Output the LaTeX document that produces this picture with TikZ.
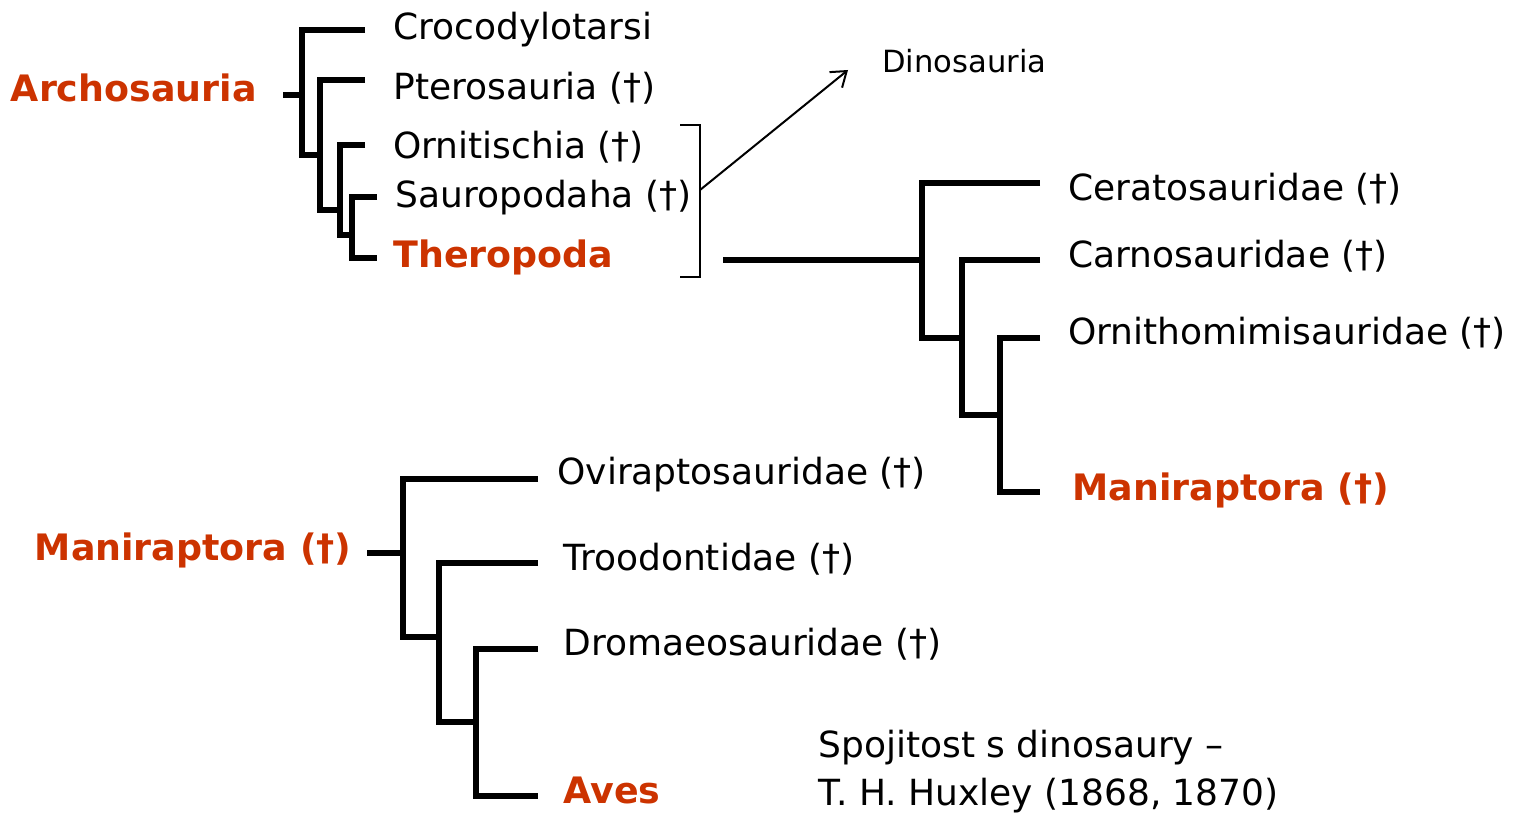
\documentclass[tikz,border=0pt]{standalone}
\usepackage{fontspec}
\setmainfont{DejaVu Sans}
\usetikzlibrary{arrows.meta}
\definecolor{cred}{RGB}{204,51,0}
\begin{document}
\begin{tikzpicture}[x=0.5pt,y=-0.5pt,
  br/.style={line width=2.6pt, line join=miter},
  thinline/.style={line width=1pt, line join=miter},
  lbl/.style={anchor=west, inner sep=0pt, font=\fontsize{18}{20}\selectfont},
  rlbl/.style={anchor=west, inner sep=0pt, text=cred, font=\fontsize{18.2}{20}\selectfont\bfseries}]
\useasboundingbox (0,0) rectangle (1518,822);
% ---------- top tree ----------
\node[lbl]  (tCro) at (393,30)  {Crocodylotarsi};
\node[lbl]  (tPte) at (393,88)  {Pterosauria (†)};
\node[lbl]  (tOrn) at (393,147) {Ornitischia (†)};
\node[lbl]  (tSau) at (395,198) {Sauropodaha (†)};
\node[rlbl] (tThe) at (393,257) {Theropoda};
\node[rlbl, anchor=east] (tArch) at (257,88) {Archosauria};
\coordinate (cro) at (365,30);
\coordinate (pte) at (365,80);
\coordinate (orn) at (365,145);
\coordinate (sau) at (377,197);
\coordinate (the) at (377,258);
\coordinate (arch) at (283,95);
\coordinate (j1) at (302,95);
\coordinate (j2) at (320,155);
\coordinate (j3) at (340,210);
\coordinate (j4) at (352,235);
\draw[br] (cro) -- (302,30) -- (302,155) -- (j2);
\draw[br] (arch) -- (j1);
\draw[br] (pte) -- (320,80) -- (320,210) -- (j3);
\draw[br] (orn) -- (340,145) -- (340,235) -- (j4);
\draw[br] (sau) -- (352,197) -- (352,258) -- (the);
% bracket and arrow
\coordinate (bt) at (680,125);
\coordinate (bb) at (680,277);
\coordinate (bm) at (700,190);
\coordinate (arr) at (848,70);
\draw[thinline] (bt) -- (700,125) -- (700,277) -- (bb);
\draw[thinline, -{Straight Barb[length=7pt,width=10pt]}] (bm) -- (arr);
\node[anchor=west, inner sep=0pt, font=\fontsize{15.3}{17}\selectfont] (tDino) at (882,61) {Dinosauria};
% ---------- theropod tree ----------
\coordinate (thr) at (723,260);
\coordinate (k1) at (922,260);
\coordinate (cer) at (1040,183);
\coordinate (car) at (1040,260);
\coordinate (omi) at (1040,338);
\coordinate (man) at (1040,492);
\coordinate (k2) at (962,338);
\coordinate (k3) at (1000,415);
\draw[br] (thr) -- (k1);
\draw[br] (cer) -- (922,183) -- (922,338) -- (k2);
\draw[br] (car) -- (962,260) -- (962,415) -- (k3);
\draw[br] (omi) -- (1000,338) -- (1000,492) -- (man);
\node[lbl]  (tCer) at (1068,189) {Ceratosauridae (†)};
\node[lbl]  (tCar) at (1068,256) {Carnosauridae (†)};
\node[lbl]  (tOmi) at (1068,333) {Ornithomimisauridae (†)};
\node[rlbl] (tMan) at (1072,490) {Maniraptora (†)};
% ---------- maniraptora tree ----------
\node[rlbl, anchor=east] (tMan2) at (352,550) {Maniraptora (†)};
\coordinate (mroot) at (367,553);
\coordinate (m1) at (403,553);
\coordinate (ovi) at (538,479);
\coordinate (tro) at (538,563);
\coordinate (dro) at (538,649);
\coordinate (ave) at (538,796);
\coordinate (m2) at (439,637);
\coordinate (m3) at (476,722);
\draw[br] (mroot) -- (m1);
\draw[br] (ovi) -- (403,479) -- (403,637) -- (m2);
\draw[br] (tro) -- (439,563) -- (439,722) -- (m3);
\draw[br] (dro) -- (476,649) -- (476,796) -- (ave);
\node[lbl]  (tOvi) at (557,475) {Oviraptosauridae (†)};
\node[lbl]  (tTro) at (563,559) {Troodontidae (†)};
\node[lbl]  (tDro) at (563,644) {Dromaeosauridae (†)};
\node[rlbl] (tAve) at (563,790) {Aves};
\node[lbl, align=left, font=\fontsize{18}{24}\selectfont] (tHux) at (818,772) {Spojitost s dinosaury –\\T. H. Huxley (1868, 1870)};
\end{tikzpicture}
\end{document}
